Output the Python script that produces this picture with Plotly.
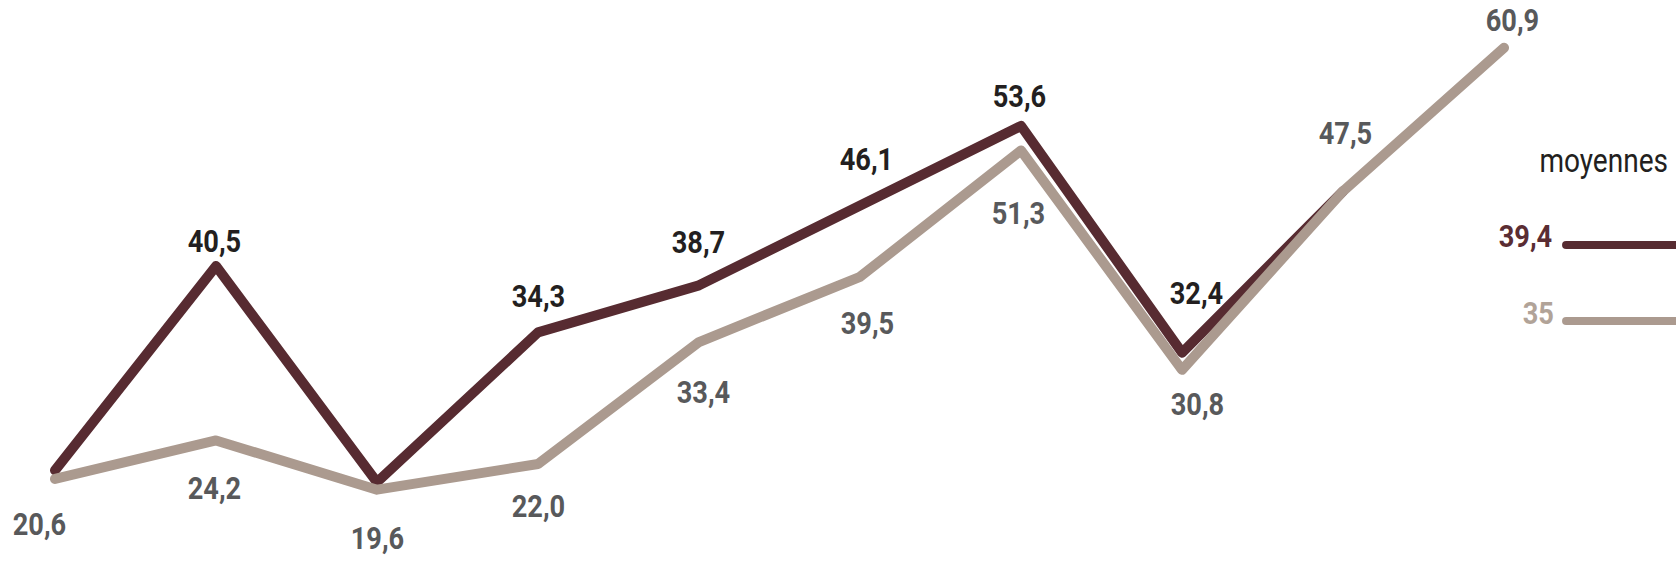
import plotly.graph_objects as go

# values
points = list(range(10))
serie_fonce = [21.4, 40.5, 20.3, 34.3, 38.7, 46.1, 53.6, 32.4, 47.5]
serie_claire = [20.6, 24.2, 19.6, 22.0, 33.4, 39.5, 51.3, 30.8, 47.5, 60.9]
moyennes = [39.4, 35]

# which points carry a label, and where it sits (px from the point)
labels_fonce = [1, 3, 4, 5, 6, 7]
dx_fonce = [-2, 0, -1, 6, -2, 14]
dy_fonce = [-25, -36, -43, -47, -30, -60]
labels_claire = [0, 1, 2, 3, 4, 5, 6, 7, 8, 9]
dx_claire = [-16, -2, 0, 0, 4, 7, -3, 15, 2, 8]
dy_claire = [45, 48, 48, 42, 50, 46, 62, 34, -58, -28]

FONCE = "#572b31"
CLAIR = "#ab9a8f"
FONT = "Roboto, Liberation Sans, sans-serif"


def fr(v):
    return f"{v:g}".replace(".", ",")


fig = go.Figure()
fig.add_trace(go.Scatter(x=points[:len(serie_fonce)], y=serie_fonce, mode="lines",
                         line=dict(color=FONCE, width=10), hoverinfo="skip"))
fig.add_trace(go.Scatter(x=points, y=serie_claire, mode="lines",
                         line=dict(color=CLAIR, width=10), hoverinfo="skip"))

for i, dx, dy in zip(labels_fonce, dx_fonce, dy_fonce):
    fig.add_annotation(x=points[i], y=serie_fonce[i], text=f"{serie_fonce[i]:.1f}".replace(".", ","),
                       showarrow=False, xshift=dx, yshift=-dy, xanchor="center", yanchor="middle",
                       font=dict(family=FONT, size=32, color="#231f20", weight="bold"))
for i, dx, dy in zip(labels_claire, dx_claire, dy_claire):
    fig.add_annotation(x=points[i], y=serie_claire[i], text=f"{serie_claire[i]:.1f}".replace(".", ","),
                       showarrow=False, xshift=dx, yshift=-dy, xanchor="center", yanchor="middle",
                       font=dict(family=FONT, size=32, color="#58595b", weight="bold"))

# legend "moyennes"
fig.add_annotation(xref="paper", yref="paper", x=0.957, y=0.715, text="moyennes",
                   xanchor="center", yanchor="middle", showarrow=False,
                   font=dict(family=FONT, size=33, color="#231f20"))
for m, col, txtcol, xp, yp, yl in zip(moyennes, [FONCE, CLAIR], ["#5a2d33", "#b1a398"],
                                      [0.9105, 0.9177], [0.580, 0.443], [0.564, 0.429]):
    fig.add_annotation(xref="paper", yref="paper", x=xp, y=yp, xanchor="center", yanchor="middle",
                       text=fr(m), showarrow=False,
                       font=dict(family=FONT, size=32, color=txtcol, weight="bold"))
    fig.add_shape(type="line", xref="paper", yref="paper", x0=0.9344, x1=1.01, y0=yl, y1=yl,
                  line=dict(color=col, width=8))

fig.update_layout(
    width=1676, height=562,
    margin=dict(l=0, r=0, t=0, b=0),
    paper_bgcolor="white", plot_bgcolor="white",
    showlegend=False,
    xaxis=dict(range=[-0.3416, 10.068], visible=False),
    yaxis=dict(range=[12.84, 65.37], visible=False),
)

# no page margin, rounded line ends, condensed look for the labels
css = ("document.body.style.margin='0';"
       "var s=document.createElement('style');"
       "s.textContent='body{margin:0;overflow:hidden}"
       ".scatterlayer .js-line{stroke-linejoin:round!important;stroke-linecap:round!important}"
       ".shapelayer path{stroke-linecap:round!important}"
       ".annotation-text{transform-box:fill-box;transform-origin:center;transform:scaleX(0.85)}';"
       "document.head.appendChild(s);")
fig.write_html("out.html", post_script=css, config={"displayModeBar": False})
